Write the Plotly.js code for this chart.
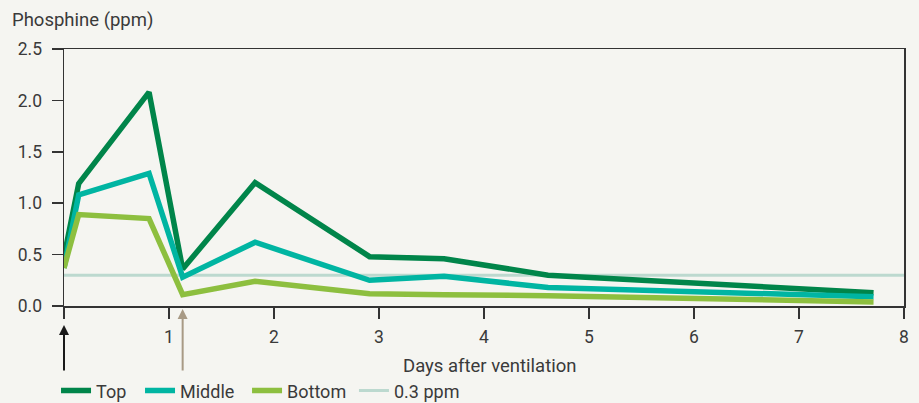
<!DOCTYPE html>
<html>
<head>
<meta charset="utf-8">
<script src="https://cdn.plot.ly/plotly-3.0.1.min.js"></script>
<style>html,body{margin:0;padding:0;background:#f5f5f1;}#chart{width:919px;height:403px;}</style>
</head>
<body>
<div id="chart"></div>
<script>
const days = [0, 0.14, 0.81, 1.13, 1.82, 2.91, 3.62, 4.61, 7.71];
const topPpm = [0.48, 1.19, 2.08, 0.36, 1.20, 0.48, 0.46, 0.30, 0.13];
const middlePpm = [0.37, 1.08, 1.29, 0.28, 0.62, 0.25, 0.29, 0.18, 0.09];
const bottomPpm = [0.37, 0.89, 0.85, 0.11, 0.24, 0.12, 0.11, 0.10, 0.04];
const thresholdDays = [0, 8];
const thresholdPpm = [0.3, 0.3];
const seriesNames = ['Top', 'Middle', 'Bottom', '0.3 ppm'];
const xTickVals = [0, 1, 2, 3, 4, 5, 6, 7, 8];
const xTickText = ['', '1', '2', '3', '4', '5', '6', '7', '8'];
const yTickVals = [0, 0.5, 1, 1.5, 2, 2.5];
const arrowDays = [0, 1.13];

const FONT = 'Roboto, "Liberation Sans", sans-serif';
const TXT = '#3a3a3a';

const traces = [
  {x: thresholdDays, y: thresholdPpm, name: seriesNames[3], legend: 'legend4', mode: 'lines', line: {color: '#bcd9cf', width: 3}},
  {x: days, y: topPpm, name: seriesNames[0], legend: 'legend', mode: 'lines', line: {color: '#00854a', width: 5.5}},
  {x: days, y: middlePpm, name: seriesNames[1], legend: 'legend2', mode: 'lines', line: {color: '#00b5a2', width: 5.5}},
  {x: days, y: bottomPpm, name: seriesNames[2], legend: 'legend3', mode: 'lines', line: {color: '#8dbf3f', width: 5.5}}
];

function leg(x) {
  return {orientation: 'h', x: x, xanchor: 'left', yref: 'container', y: 0.03, yanchor: 'middle',
    font: {family: FONT, size: 18, color: TXT}, bgcolor: 'rgba(0,0,0,0)'};
}

const layout = {
  width: 919, height: 403,
  paper_bgcolor: '#f5f5f1', plot_bgcolor: '#f5f5f1',
  margin: {l: 64, r: 15, t: 49, b: 97, autoexpand: false},
  font: {family: FONT, size: 17, color: TXT},
  showlegend: true,
  legend: leg(-0.0095),
  legend2: leg(0.0905),
  legend3: leg(0.2179),
  legend4: leg(0.3452),
  xaxis: {
    range: [0, 8], tickvals: xTickVals, ticktext: xTickText, automargin: false,
    showgrid: false, zeroline: false, showline: true, linecolor: '#333', linewidth: 1.5,
    mirror: true, ticks: 'outside', ticklen: 11, tickcolor: '#333', tickwidth: 1.5,
    ticklabelstandoff: 3, tickfont: {family: FONT, size: 17.5, color: TXT}
  },
  yaxis: {
    range: [0, 2.5], tickvals: yTickVals, tickformat: '.1f', automargin: false,
    showgrid: false, zeroline: false, showline: true, linecolor: '#333', linewidth: 1.5,
    mirror: true, ticks: 'outside', ticklen: 11, tickcolor: '#333', tickwidth: 1.5,
    ticklabelstandoff: 6, tickfont: {family: FONT, size: 17.5, color: TXT}
  },
  annotations: [
    {xref: 'paper', yref: 'paper', x: -0.064, y: 1.063, xanchor: 'left', yanchor: 'bottom',
     text: 'Phosphine (ppm)', showarrow: false, font: {family: FONT, size: 18.5, color: TXT}},
    {xref: 'paper', yref: 'paper', x: 0.506, y: -0.2335, xanchor: 'center', yanchor: 'middle',
     text: 'Days after ventilation', showarrow: false, font: {family: FONT, size: 18.5, color: TXT}},
    {xref: 'x', yref: 'paper', x: arrowDays[0], y: -0.074, text: '', showarrow: true,
     ax: 0, ay: 47, arrowhead: 2, arrowsize: 1, arrowwidth: 2, arrowcolor: '#1a1a1a'},
    {xref: 'x', yref: 'paper', x: arrowDays[1], y: -0.012, text: '', showarrow: true,
     ax: 0, ay: 63, arrowhead: 2, arrowsize: 1, arrowwidth: 2, arrowcolor: '#a89a85'}
  ]
};

Plotly.newPlot('chart', traces, layout, {displayModeBar: false, staticPlot: true});
</script>
</body>
</html>
